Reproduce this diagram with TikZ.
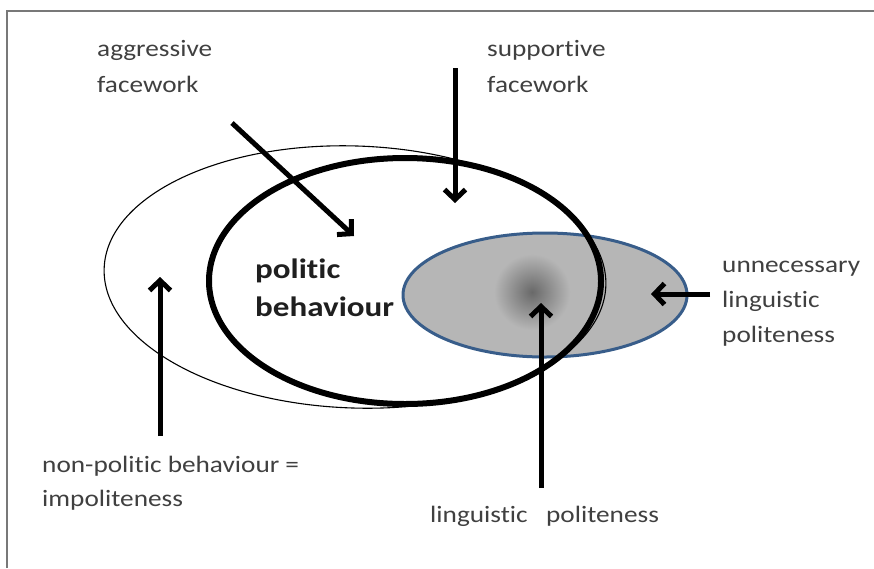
\documentclass[tikz,border=0pt]{standalone}
\usepackage{fontspec}
\setmainfont{Carlito}
\newfontfamily\lblfont[FakeStretch=1.16,Ligatures=NoCommon]{Carlito}
\newfontfamily\headfont[FakeStretch=1.18,Ligatures=NoCommon]{Carlito}
\usetikzlibrary{arrows.meta}
\definecolor{txtgray}{RGB}{64,64,64}
\definecolor{frmgray}{RGB}{120,120,120}
\definecolor{lpblue}{RGB}{56,93,138}
\definecolor{lpfill}{RGB}{182,182,182}
\definecolor{lpcore}{RGB}{105,105,105}
\begin{document}
\begin{tikzpicture}[x=1pt,y=-1pt,
	lbl/.style={anchor=base west,inner sep=0pt,align=left,text=txtgray,font=\lblfont\fontsize{23.5}{36}\selectfont},
	bigarrow/.style={color=black,line width=5pt,-{Straight Barb[length=10pt,width=21pt]}}]
	\useasboundingbox (0,0) rectangle (874,568);
	\draw[color=frmgray,line width=1.5pt] (7,568)--(7,11)--(874,11);
	\fill[color=lpfill] (545,295) ellipse [x radius=142,y radius=62];
	\shade[inner color=lpcore,outer color=lpfill] (532,292) circle [radius=38];
	\draw[color=lpblue,line width=3pt] (545,295) ellipse [x radius=142,y radius=62];
	\draw[color=black,line width=1.1pt,rotate around={-2:(355,277)}] (355,277) ellipse [x radius=251,y radius=131];
	\draw[color=black,line width=6pt] (405,281) ellipse [x radius=196,y radius=123];
	\node[lbl] (aggr) at (97,92) {aggressive\\facework};
	\node[lbl] (supp) at (487,92) {supportive\\facework};
	\node[lbl,text=black!88,font=\headfont\bfseries\fontsize{28}{38}\selectfont] (polit) at (255,316) {politic\\behaviour};
	\node[lbl,font=\lblfont\fontsize{23.5}{35}\selectfont] (unnec) at (722,342) {unnecessary\\linguistic\\politeness};
	\node[lbl,font=\lblfont\fontsize{23.5}{34}\selectfont] (nonpol) at (42,506) {non-politic behaviour =\\impoliteness};
	\node[lbl] (lingpol) at (430,522) {linguistic~~~politeness};
	\coordinate (aggr tail) at (232,123);
	\coordinate (aggr tip) at (354,236);
	\coordinate (supp tail) at (455,68);
	\coordinate (supp tip) at (455,203);
	\coordinate (nonpol tail) at (160,436);
	\coordinate (nonpol tip) at (160,277);
	\coordinate (lingpol tail) at (541,488);
	\coordinate (lingpol tip) at (541,303);
	\coordinate (unnec tail) at (710,294);
	\coordinate (unnec tip) at (651,294);
	\draw[bigarrow] (aggr tail)--(aggr tip);
	\draw[bigarrow] (supp tail)--(supp tip);
	\draw[bigarrow] (nonpol tail)--(nonpol tip);
	\draw[bigarrow] (lingpol tail)--(lingpol tip);
	\draw[bigarrow] (unnec tail)--(unnec tip);
\end{tikzpicture}
\end{document}
